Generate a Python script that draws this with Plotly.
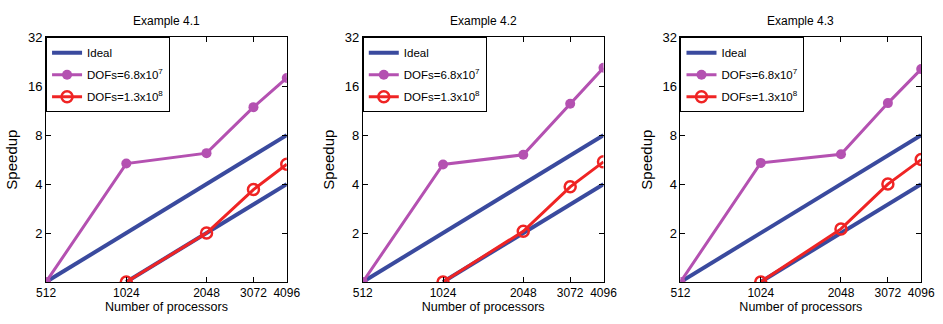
import plotly.graph_objects as go

procs = [512, 1024, 2048, 3072, 4096]
x_ticks = [512, 1024, 2048, 3072, 4096]
y_ticks = [2, 4, 8, 16, 32]
titles = ["Example 4.1", "Example 4.2", "Example 4.3"]

ideal_a_x = [512, 4096]
ideal_a_y = [1, 8]
ideal_b_x = [1024, 4096]
ideal_b_y = [1, 4]

dof68_x = [512, 1024, 2048, 3072, 4096]
dof68_y = [
    [1, 5.35, 6.2, 11.9, 18.0],
    [1, 5.28, 6.06, 12.5, 20.8],
    [1, 5.4, 6.1, 12.6, 20.4],
]
dof13_x = [1024, 2048, 3072, 4096]
dof13_y = [
    [1, 2.0, 3.7, 5.3],
    [1, 2.05, 3.85, 5.48],
    [1, 2.12, 4.0, 5.66],
]

W, H = 943, 324
lefts = [37, 362, 688]
pw = 247
top, bottom = 31, 281

BLUE = "#3a4a9e"
PURPLE = "#b451b1"
RED = "#ef2424"
FONT = "Liberation Sans, Arial"

fig = go.Figure()
for i in range(3):
    xa = "x" if i == 0 else f"x{i+1}"
    ya = "y" if i == 0 else f"y{i+1}"
    lg = "legend" if i == 0 else f"legend{i+1}"
    fig.add_trace(go.Scatter(x=ideal_a_x, y=ideal_a_y, mode="lines", name="Ideal",
                             legendgroup=f"a{i}",
                             line=dict(color=BLUE, width=4), xaxis=xa, yaxis=ya, legend=lg))
    fig.add_trace(go.Scatter(x=ideal_b_x, y=ideal_b_y, mode="lines", name="Ideal", showlegend=False,
                             legendgroup=f"a{i}",
                             line=dict(color=BLUE, width=4), xaxis=xa, yaxis=ya, legend=lg))
    fig.add_trace(go.Scatter(x=dof68_x, y=dof68_y[i], mode="lines+markers",
                             name="DOFs=6.8x10<sup>7</sup>", legendgroup=f"b{i}",
                             line=dict(color=PURPLE, width=3),
                             marker=dict(color=PURPLE, size=10, symbol="circle"),
                             xaxis=xa, yaxis=ya, legend=lg))
    fig.add_trace(go.Scatter(x=dof13_x, y=dof13_y[i], mode="lines+markers",
                             name="DOFs=1.3x10<sup>8</sup>", legendgroup=f"c{i}",
                             line=dict(color=RED, width=3),
                             marker=dict(color=RED, size=11, symbol="circle-open",
                                         line=dict(color=RED, width=2.5)),
                             xaxis=xa, yaxis=ya, legend=lg))

    x0 = lefts[i] / W
    x1 = (lefts[i] + pw) / W
    y0 = (H - bottom) / H
    y1 = (H - top) / H
    axis_common = dict(showline=True, linecolor="black", linewidth=1, mirror="allticks",
                       ticks="inside", ticklen=5, tickcolor="black", showgrid=False,
                       zeroline=False)
    xkey = "xaxis" if i == 0 else f"xaxis{i+1}"
    ykey = "yaxis" if i == 0 else f"yaxis{i+1}"
    fig.layout[xkey] = dict(axis_common, type="log", domain=[x0, x1], anchor=ya,
                            range=[2.70927, 3.61236], tickvals=x_ticks,
                            ticktext=[str(v) for v in x_ticks],
                            tickfont=dict(family=FONT, size=12, color="black"),
                            title=dict(text="Number of processors", standoff=2,
                                       font=dict(family=FONT, size=12.5, color="black")))
    fig.layout[ykey] = dict(axis_common, type="log", domain=[y0, y1], anchor=xa,
                            range=[0, 1.50515], tickvals=y_ticks,
                            ticktext=[str(v) for v in y_ticks],
                            tickfont=dict(family=FONT, size=13, color="black"),
                            title=dict(text="Speedup", standoff=6,
                                       font=dict(family=FONT, size=15, color="black")))
    fig.layout[lg] = dict(x=x0, y=y1, xanchor="left", yanchor="top", xref="paper", yref="paper",
                          bordercolor="black", borderwidth=1, bgcolor="white",
                          font=dict(family=FONT, size=11.5, color="black"),
                          itemwidth=30, tracegroupgap=3)
    fig.add_annotation(text=titles[i], x=(x0 + x1) / 2, y=(H - 14) / H, xref="paper", yref="paper",
                       showarrow=False, xanchor="center", yanchor="middle",
                       font=dict(family=FONT, size=12, color="black"))

fig.update_layout(width=W, height=H, margin=dict(l=0, r=0, t=0, b=0),
                  paper_bgcolor="white", plot_bgcolor="white", showlegend=True)
fig.write_html("out.html")
